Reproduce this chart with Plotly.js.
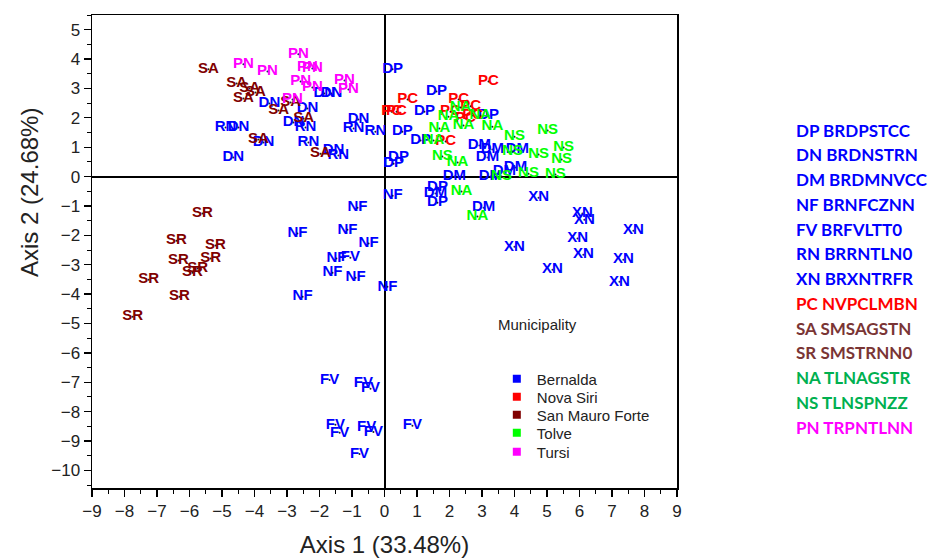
<!DOCTYPE html>
<html>
<head>
<meta charset="utf-8">
<script src="https://cdn.plot.ly/plotly-3.0.1.min.js"></script>
<style>html,body{margin:0;padding:0;background:#fff;}#chart{width:941px;height:560px;}</style>
</head>
<body>
<div id="chart"></div>
<script>
// ---- data (Axis 1, Axis 2) ----
const DP_x = [0.25, 1.6, 1.23, 0.55, 1.11, 3.2, 0.43, 0.28, 1.63, 1.63];
const DP_y = [3.65, 2.9, 2.21, 1.53, 1.23, 2.08, 0.65, 0.44, -0.37, -0.89];
const DN_x = [-3.54, -2.37, -2.8, -0.8, -4.49, -3.72, -4.65, -1.57, -1.85, -1.63];
const DN_y = [2.49, 2.32, 1.84, 1.94, 1.67, 1.16, 0.65, 0.89, 2.83, 2.83];
const DM_x = [2.92, 3.32, 4.09, 3.17, 2.15, 3.26, 3.69, 4.03, 3.05, 1.57];
const DM_y = [1.06, 0.92, 0.92, 0.65, 0.0, 0.0, 0.17, 0.31, -1.06, -0.58];
const NF_x = [0.25, -0.83, -2.68, -1.14, -0.49, -1.48, -1.6, -0.89, -2.52, 0.09];
const NF_y = [-0.65, -1.06, -1.94, -1.81, -2.28, -2.79, -3.27, -3.44, -4.09, -3.75];
const FV_x = [-1.05, -1.69, -0.65, -0.43, -1.51, -1.38, -0.55, -0.34, 0.86, -0.77];
const FV_y = [-2.76, -6.92, -7.05, -7.22, -8.45, -8.72, -8.52, -8.69, -8.48, -9.44];
const RN_x = [-4.89, -2.43, -0.95, -0.28, -2.34, -1.42];
const RN_y = [1.67, 1.67, 1.64, 1.53, 1.16, 0.72];
const XN_x = [4.74, 6.09, 6.15, 7.66, 5.94, 4.0, 6.12, 7.35, 5.17, 7.23];
const XN_y = [-0.72, -1.26, -1.47, -1.84, -2.11, -2.39, -2.66, -2.83, -3.17, -3.58];
const PC_x = [3.2, 0.71, 0.37, 0.22, 2.28, 2.03, 2.71, 2.49, 1.88, 2.65];
const PC_y = [3.24, 2.62, 2.21, 2.21, 2.62, 2.21, 2.08, 1.98, 1.19, 2.39];
const SA_x = [-5.42, -4.55, -4.15, -3.97, -4.34, -3.26, -2.89, -2.49, -3.88, -1.97];
const SA_y = [3.65, 3.17, 3.0, 2.86, 2.66, 2.25, 2.52, 1.98, 1.26, 0.78];
const SR_x = [-5.6, -6.4, -5.2, -5.35, -6.34, -5.75, -5.91, -7.26, -6.31, -7.75];
const SR_y = [-1.26, -2.18, -2.35, -2.79, -2.86, -3.13, -3.27, -3.51, -4.09, -4.77];
const NA_x = [2.34, 1.97, 2.95, 2.43, 3.32, 1.69, 1.51, 2.25, 2.37, 2.86];
const NA_y = [2.35, 2.04, 2.08, 1.74, 1.7, 1.64, 1.23, 0.48, -0.51, -1.36];
const NS_x = [4.0, 5.02, 5.51, 4.74, 5.45, 1.78, 3.94, 4.43, 5.26, 3.6];
const NS_y = [1.36, 1.57, 0.99, 0.75, 0.58, 0.68, 0.85, 0.1, 0.07, 0.0];
const PN_x = [-2.65, -4.34, -3.6, -2.37, -2.22, -2.58, -2.22, -1.23, -1.11, -2.83];
const PN_y = [4.16, 3.82, 3.58, 3.71, 3.68, 3.24, 3.03, 3.27, 2.96, 2.62];

// ---- categories ----
const municipalities = ['Bernalda', 'Nova Siri', 'San Mauro Forte', 'Tolve', 'Tursi'];
const muniColors = ['#0000FF', '#FF0000', '#800000', '#00FF00', '#FF00FF'];
const codes = ['DP', 'DN', 'DM', 'NF', 'FV', 'RN', 'XN', 'PC', 'SA', 'SR', 'NA', 'NS', 'PN'];
const codeMuni = [0, 0, 0, 0, 0, 0, 0, 1, 2, 2, 3, 3, 4];
const codeNames = ['BRDPSTCC', 'BRDNSTRN', 'BRDMNVCC', 'BRNFCZNN', 'BRFVLTT0', 'BRRNTLN0', 'BRXNTRFR',
                   'NVPCLMBN', 'SMSAGSTN', 'SMSTRNN0', 'TLNAGSTR', 'TLNSPNZZ', 'TRPNTLNN'];
const listColors = ['#0000FF', '#FF0000', '#7A3535', '#00B050', '#FF00FF'];
const legendTitle = 'Municipality';
const xTitle = 'Axis 1 (33.48%)';
const yTitle = 'Axis 2 (24.68%)';

const xs = [DP_x, DN_x, DM_x, NF_x, FV_x, RN_x, XN_x, PC_x, SA_x, SR_x, NA_x, NS_x, PN_x];
const ys = [DP_y, DN_y, DM_y, NF_y, FV_y, RN_y, XN_y, PC_y, SA_y, SR_y, NA_y, NS_y, PN_y];

const FONT = 'Liberation Sans, Arial, sans-serif';
const traces = [];
codes.forEach((c, i) => {
  const col = muniColors[codeMuni[i]];
  traces.push({
    type: 'scatter', mode: 'markers+text',
    x: xs[i], y: ys[i],
    text: xs[i].map(() => c),
    textposition: 'middle center',
    textfont: {family: FONT, size: 15, color: col, weight: 'bold'},
    marker: {size: 2, color: '#222'},
    showlegend: false, hoverinfo: 'x+y+text'
  });
});

const legendIds = municipalities.map((m, k) => k === 0 ? 'legend' : 'legend' + (k + 1));
const legendRowY = [379, 397, 415, 433, 452];
municipalities.forEach((m, k) => {
  traces.push({
    type: 'scatter', mode: 'markers', x: [null], y: [null], name: m,
    marker: {symbol: 'square', size: 8, color: muniColors[k]},
    showlegend: true, legend: legendIds[k]
  });
});

const annotations = [{
  text: legendTitle, xref: 'paper', yref: 'paper', x: 0.762, y: 0.345,
  xanchor: 'center', yanchor: 'middle', showarrow: false,
  font: {family: FONT, size: 15, color: '#222'}
}, {
  text: yTitle, xref: 'paper', yref: 'paper', x: (29 - 92) / 585, y: (488 - 193) / 473,
  xanchor: 'center', yanchor: 'middle', showarrow: false, textangle: -90,
  font: {family: FONT, size: 24, color: '#222'}
}];
codes.forEach((c, i) => {
  annotations.push({
    text: c + ' ' + codeNames[i], xref: 'paper', yref: 'paper',
    x: (794 - 92) / 585, y: (488 - 130 - i * 24.75) / 473,
    xanchor: 'left', yanchor: 'middle', showarrow: false,
    font: {family: 'Lato, sans-serif', size: 17, color: listColors[codeMuni[i]], weight: 'bold'}
  });
});

const axisCommon = {
  showgrid: false, showline: true, linecolor: '#000', linewidth: 1.5, mirror: true,
  zeroline: true, zerolinecolor: '#000', zerolinewidth: 2,
  ticks: 'outside', ticklen: 7, tickwidth: 1.3, tickcolor: '#000',
  tickfont: {family: FONT, size: 17, color: '#222'},
  minor: {dtick: 0.5, ticklen: 4, tickwidth: 1, tickcolor: '#000', ticks: 'outside'}
};

const layout = {
  width: 941, height: 560,
  margin: {l: 92, r: 264, t: 15, b: 72},
  paper_bgcolor: '#fff', plot_bgcolor: '#fff',
  xaxis: Object.assign({}, axisCommon, {
    range: [-9, 9], tick0: -9, dtick: 1,
    title: {text: xTitle, font: {family: FONT, size: 24, color: '#222'}, standoff: 16}
  }),
  yaxis: Object.assign({}, axisCommon, {
    range: [-10.6, 5.5], tick0: 0, dtick: 1
  }),
  annotations: annotations,
  showlegend: true
};
legendIds.forEach((id, k) => {
  layout[id] = {
    x: 0.692, y: (488 - legendRowY[k]) / 473, xanchor: 'left', yanchor: 'middle',
    font: {family: FONT, size: 15, color: '#222'},
    bgcolor: 'rgba(0,0,0,0)', borderwidth: 0
  };
});

Plotly.newPlot('chart', traces, layout, {displayModeBar: false, staticPlot: true});
</script>
</body>
</html>
